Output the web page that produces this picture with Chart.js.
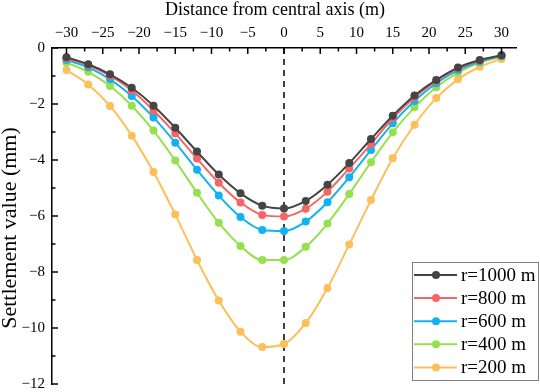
<!DOCTYPE html>
<html><head><meta charset="utf-8">
<script src="https://cdn.jsdelivr.net/npm/chart.js@4/dist/chart.umd.min.js"></script>
<style>html,body{margin:0;padding:0;background:#fff;}</style>
</head><body>
<canvas id="c" width="540" height="392" style="width:540px;height:392px;display:block"></canvas>
<script>
const distances = [-30,-27,-24,-21,-18,-15,-12,-9,-6,-3,0,3,6,9,12,15,18,21,24,27,30];
const r1000 = [-0.33,-0.58,-0.94,-1.42,-2.06,-2.85,-3.70,-4.52,-5.19,-5.63,-5.73,-5.46,-4.88,-4.11,-3.25,-2.42,-1.70,-1.14,-0.70,-0.43,-0.26];
const r800  = [-0.37,-0.62,-0.99,-1.52,-2.23,-3.05,-3.95,-4.81,-5.52,-5.96,-6.02,-5.74,-5.13,-4.30,-3.43,-2.51,-1.77,-1.18,-0.73,-0.45,-0.27];
const r600  = [-0.43,-0.69,-1.12,-1.71,-2.48,-3.38,-4.35,-5.27,-6.04,-6.50,-6.54,-6.20,-5.51,-4.62,-3.64,-2.69,-1.89,-1.26,-0.79,-0.49,-0.29];
const r400  = [-0.52,-0.85,-1.36,-2.06,-2.95,-4.02,-5.17,-6.24,-7.07,-7.57,-7.57,-7.10,-6.27,-5.21,-4.08,-3.01,-2.12,-1.40,-0.88,-0.52,-0.31];
const r200  = [-0.79,-1.30,-2.07,-3.13,-4.43,-5.95,-7.57,-9.02,-10.13,-10.68,-10.57,-9.82,-8.57,-7.02,-5.43,-3.94,-2.74,-1.79,-1.12,-0.67,-0.39];
const seriesLabels = ['r=1000 m','r=800 m','r=600 m','r=400 m','r=200 m'];
const seriesColors = ['#454545','#f56565','#12b2f0','#96e050','#fdbf5a'];
const xTicks = [-30,-25,-20,-15,-10,-5,0,5,10,15,20,25,30];
const xMinorTicks = [-27.5,-22.5,-17.5,-12.5,-7.5,-2.5,2.5,7.5,12.5,17.5,22.5,27.5];
const yTicks = [0,-2,-4,-6,-8,-10,-12];
const yMinorTicks = [-1,-3,-5,-7,-9,-11];
const xTitle = 'Distance from central axis (m)';
const yTitle = 'Settlement value (mm)';
const allSeries = [r1000,r800,r600,r400,r200];

const FONT = "'Liberation Serif','Times New Roman',serif";
Chart.defaults.font.family = FONT;
Chart.defaults.color = '#000';

const fmt = v => (v < 0 ? '\u2212' + Math.abs(v) : String(v));

const decor = {
  id: 'decor',
  beforeDatasetsDraw(chart) {
    const {ctx, chartArea: a, scales: {x}} = chart;
    const px = x.getPixelForValue(0);
    ctx.save();
    ctx.strokeStyle = '#000';
    ctx.lineWidth = 1.5;
    ctx.setLineDash([6, 5]);
    ctx.beginPath();
    ctx.moveTo(px, a.top);
    ctx.lineTo(px, a.bottom + 4);
    ctx.stroke();
    ctx.restore();
  },
  afterDraw(chart) {
    const {ctx, chartArea: a, scales: {x, y}} = chart;
    ctx.save();
    ctx.strokeStyle = '#000';
    ctx.lineWidth = 1.5;
    const seg = (x1, y1, x2, y2) => { ctx.beginPath(); ctx.moveTo(x1, y1); ctx.lineTo(x2, y2); ctx.stroke(); };
    xTicks.forEach(v => { const p = x.getPixelForValue(v); seg(p, a.top, p, a.top + 6); });
    xMinorTicks.forEach(v => { const p = x.getPixelForValue(v); seg(p, a.top, p, a.top + 3.5); });
    yTicks.forEach(v => { const p = y.getPixelForValue(v); seg(a.left, p, a.left + 6, p); });
    yMinorTicks.forEach(v => { const p = y.getPixelForValue(v); seg(a.left, p, a.left + 3.5, p); });
    // axis titles
    ctx.fillStyle = '#000';
    ctx.textAlign = 'center';
    ctx.textBaseline = 'middle';
    ctx.font = '18px ' + FONT;
    ctx.fillText(xTitle, 275, 10);
    ctx.save();
    ctx.translate(10, 228);
    ctx.rotate(-Math.PI / 2);
    ctx.font = '22px ' + FONT;
    ctx.fillText(yTitle, 0, 0);
    ctx.restore();
    // legend
    const bx = 412.5, by = 262.5, bw = 126, bh = 118;
    ctx.fillStyle = '#fff';
    ctx.fillRect(bx, by, bw, bh);
    ctx.strokeStyle = '#808080';
    ctx.lineWidth = 1;
    ctx.strokeRect(bx, by, bw, bh);
    ctx.font = '19px ' + FONT;
    ctx.textBaseline = 'middle';
    ctx.textAlign = 'left';
    chart.data.datasets.forEach((ds, i) => {
      const ry = 275 + i * 23.1;
      ctx.strokeStyle = ds.borderColor;
      ctx.lineWidth = 2;
      seg(414, ry, 457, ry);
      ctx.fillStyle = ds.borderColor;
      ctx.beginPath(); ctx.arc(436, ry, 4, 0, Math.PI * 2); ctx.fill();
      ctx.fillStyle = '#000';
      ctx.fillText(ds.label, 461, ry + 1);
    });
    ctx.restore();
  }
};

const noPad = s => { s.paddingTop = 0; s.paddingBottom = 0; s.paddingLeft = 0; s.paddingRight = 0; };

new Chart(document.getElementById('c'), {
  type: 'line',
  data: {
    datasets: allSeries.map((s, i) => ({
      label: seriesLabels[i],
      data: distances.map((d, j) => ({x: d, y: s[j]})),
      borderColor: seriesColors[i],
      backgroundColor: seriesColors[i],
      pointBackgroundColor: seriesColors[i],
      pointBorderWidth: 0,
      pointRadius: 4,
      borderWidth: 2,
      cubicInterpolationMode: 'monotone',
      fill: false
    }))
  },
  options: {
    responsive: false,
    animation: false,
    layout: {padding: {left: 0, right: 24, top: 0, bottom: 8}},
    plugins: {legend: {display: false}, tooltip: {enabled: false}},
    scales: {
      x: {
        type: 'linear', position: 'top', min: -32, max: 32,
        afterBuildTicks: s => { s.ticks = xTicks.map(v => ({value: v})); },
        afterFit: s => { s.height = 48; noPad(s); },
        grid: {display: false, drawTicks: false},
        border: {display: true, color: '#000', width: 1.5},
        ticks: {font: {size: 15}, padding: 6, maxRotation: 0, callback: v => fmt(v)},
        title: {display: false}
      },
      y: {
        type: 'linear', min: -12, max: 0,
        afterBuildTicks: s => { s.ticks = yTicks.map(v => ({value: v})); },
        afterFit: s => { s.width = 52; noPad(s); },
        grid: {display: false, drawTicks: false},
        border: {display: true, color: '#000', width: 1.5},
        ticks: {font: {size: 15}, padding: 7, callback: v => fmt(v)},
        title: {display: false}
      }
    }
  },
  plugins: [decor]
});
</script>
</body></html>
